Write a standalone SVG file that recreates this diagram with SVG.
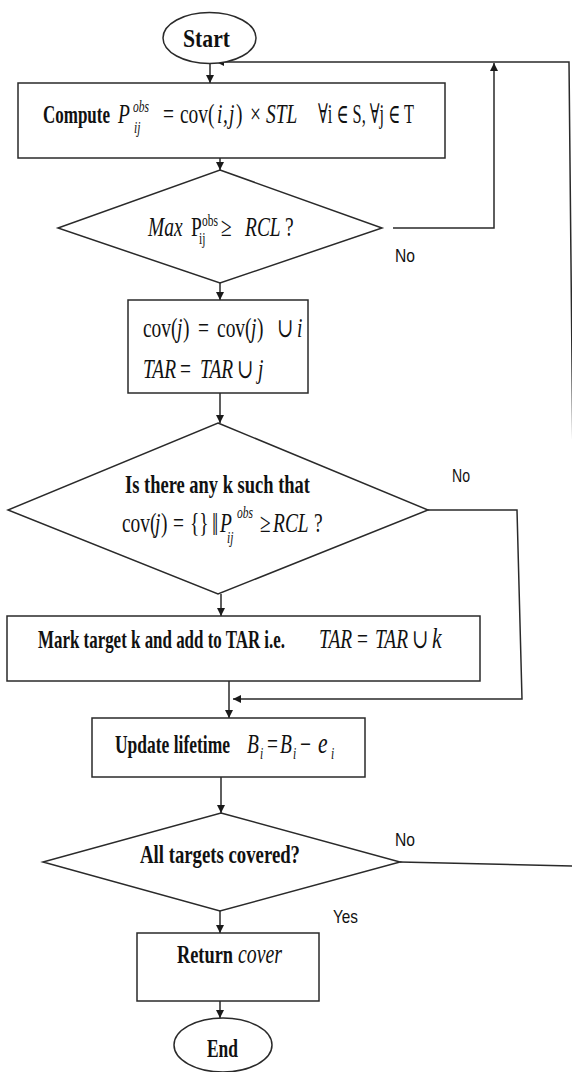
<svg xmlns="http://www.w3.org/2000/svg" width="572" height="1072" viewBox="0 0 572 1072">
<defs>
<marker id="ah" viewBox="0 0 10 10" refX="10" refY="5" markerWidth="9" markerHeight="8" markerUnits="userSpaceOnUse" orient="auto">
<path d="M0,0 L10,5 L0,10 z" fill="#1a1a1a"/>
</marker>
<style>
.n{fill:#fff;stroke:#2a2a2a;stroke-width:1.5}
.c{fill:none;stroke:#2a2a2a;stroke-width:1.5}
.b{font-family:"Liberation Serif",serif;font-weight:bold;font-size:26px;fill:#111}
.m{font-family:"Liberation Serif","DejaVu Serif",serif;font-size:27px;fill:#111}
.i{font-style:italic}
.s{font-size:16px}
.l{font-family:"Liberation Sans",sans-serif;font-size:19px;fill:#111}
</style>
</defs>
<rect width="572" height="1072" fill="#fff"/>
<g id="connectors">
<path class="c" d="M210,63 V83" marker-end="url(#ah)"/>
<path class="c" d="M220,158 V170" marker-end="url(#ah)"/>
<path class="c" d="M393,228 H494 V63" marker-end="url(#ah)"/>
<path class="c" d="M220,283 V300" marker-end="url(#ah)"/>
<path class="c" d="M220,393 V423" marker-end="url(#ah)"/>
<path class="c" d="M428,510 H517 L522,699 H233" marker-end="url(#ah)"/>
<path class="c" d="M221,594 V616" marker-end="url(#ah)"/>
<path class="c" d="M229,681 V718" marker-end="url(#ah)"/>
<path class="c" d="M221,777 V813" marker-end="url(#ah)"/>
<path class="c" d="M400,862 L577,866 L569,62 H216" marker-end="url(#ah)"/>
<path class="c" d="M220,911 V933" marker-end="url(#ah)"/>
<path class="c" d="M220,1001 V1018" marker-end="url(#ah)"/>
<text class="l" x="395" y="262" textLength="20" lengthAdjust="spacingAndGlyphs">No</text>
<text class="l" x="452" y="482" textLength="18" lengthAdjust="spacingAndGlyphs">No</text>
<text class="l" x="395" y="846" textLength="20" lengthAdjust="spacingAndGlyphs">No</text>
<text class="l" x="333" y="923" textLength="25" lengthAdjust="spacingAndGlyphs">Yes</text>
</g>
<g id="start">
<ellipse class="n" cx="209.5" cy="38" rx="46.5" ry="25.5"/>
<text class="b" x="183" y="47" textLength="47" lengthAdjust="spacingAndGlyphs">Start</text>
</g>
<g id="compute">
<rect class="n" x="18" y="83" width="427" height="75"/>
<text class="b" x="43" y="123" textLength="67" lengthAdjust="spacingAndGlyphs">Compute</text>
<text class="m" transform="scale(0.72,1)" y="123"><tspan class="i" x="163.9">P</tspan><tspan class="i s" x="184.7" y="112">obs</tspan><tspan class="i s" x="186.1" y="133">ij</tspan><tspan x="226.4" y="123">=</tspan><tspan x="250">cov(</tspan><tspan class="i" x="301.4">i</tspan><tspan x="309.7">,</tspan><tspan class="i" x="318.1">j</tspan><tspan x="327.8">)</tspan><tspan x="347.2">×</tspan><tspan class="i" x="369.4">STL</tspan><tspan x="441.7" textLength="133.3" lengthAdjust="spacingAndGlyphs">∀i ∈ S, ∀j ∈ T</tspan></text>
</g>
<g id="decision1">
<polygon class="n" points="220,170 382,228 220,283 58,228"/>
<text class="m" transform="scale(0.72,1)" y="236"><tspan class="i" x="205.6">Max</tspan><tspan x="265.3">P</tspan><tspan class="s" x="280.6" y="226">obs</tspan><tspan class="s" x="276.4" y="244">ij</tspan><tspan x="306.9" y="236">≥</tspan><tspan class="i" x="340.3">RCL</tspan><tspan x="395.8">?</tspan></text>
</g>
<g id="assign">
<rect class="n" x="128" y="300" width="180" height="93"/>
<text class="m" transform="scale(0.72,1)" y="337"><tspan x="198.6">cov(</tspan><tspan class="i" x="245.8">j</tspan><tspan x="254.2">)</tspan><tspan x="275">=</tspan><tspan x="301.4">cov(</tspan><tspan class="i" x="348.6">j</tspan><tspan x="356.9">)</tspan><tspan x="384.7">∪</tspan><tspan class="i" x="412.5">i</tspan></text>
<text class="m" transform="scale(0.72,1)" y="378"><tspan class="i" x="198.6">TAR</tspan><tspan x="250">=</tspan><tspan class="i" x="277.8">TAR</tspan><tspan x="329.2">∪</tspan><tspan class="i" x="358.3">j</tspan></text>
</g>
<g id="decision2">
<polygon class="n" points="218,423 428,510 218,594 8,510"/>
<text class="b" x="125" y="493" textLength="185" lengthAdjust="spacingAndGlyphs">Is there any k such that</text>
<text class="m" transform="scale(0.72,1)" y="532"><tspan x="169.4">cov(</tspan><tspan class="i" x="215.3">j</tspan><tspan x="223.6">)</tspan><tspan x="240.3">=</tspan><tspan x="263.9">{}</tspan><tspan x="294.4" y="535" style="font-size:31px">‖</tspan><tspan class="i" x="305.6" y="532">P</tspan><tspan class="i s" x="329.2" y="518">obs</tspan><tspan class="i s" x="315.3" y="543">ij</tspan><tspan x="361.1" y="532">≥</tspan><tspan class="i" x="379.2">RCL</tspan><tspan x="436">?</tspan></text>
</g>
<g id="mark">
<rect class="n" x="7" y="616" width="473" height="65"/>
<text class="b" x="38" y="648" textLength="247" lengthAdjust="spacingAndGlyphs">Mark target k and add to TAR i.e.</text>
<text class="m" transform="scale(0.72,1)" y="648"><tspan class="i" x="443.1">TAR</tspan><tspan x="495.8">=</tspan><tspan class="i" x="520.8">TAR</tspan><tspan x="572.2">∪</tspan><tspan class="i" x="600" style="font-size:30px">k</tspan></text>
</g>
<g id="update">
<rect class="n" x="92" y="718" width="273" height="59"/>
<text class="b" x="115" y="753" textLength="115" lengthAdjust="spacingAndGlyphs">Update lifetime</text>
<text class="m" transform="scale(0.72,1)" y="753"><tspan class="i" x="343.1">B</tspan><tspan class="i s" x="361.1" y="759">i</tspan><tspan x="370.8" y="753">=</tspan><tspan class="i" x="388.9">B</tspan><tspan class="i s" x="406.9" y="759">i</tspan><tspan x="416.7" y="753">−</tspan><tspan class="i" x="441.7" style="font-size:30px">e</tspan><tspan class="i s" x="459.7" y="759">i</tspan></text>
</g>
<g id="decision3">
<polygon class="n" points="221,813 400,862 220,911 43,862"/>
<text class="b" x="140" y="863" textLength="160" lengthAdjust="spacingAndGlyphs">All targets covered?</text>
</g>
<g id="return">
<rect class="n" x="137" y="933" width="182" height="68"/>
<text class="b" x="177" y="963" textLength="56" lengthAdjust="spacingAndGlyphs">Return</text>
<text class="m i" x="238" y="963" textLength="44" lengthAdjust="spacingAndGlyphs">cover</text>
</g>
<g id="end">
<ellipse class="n" cx="223" cy="1045" rx="49" ry="27"/>
<text class="b" x="207" y="1057" textLength="31" lengthAdjust="spacingAndGlyphs">End</text>
</g>
</svg>
